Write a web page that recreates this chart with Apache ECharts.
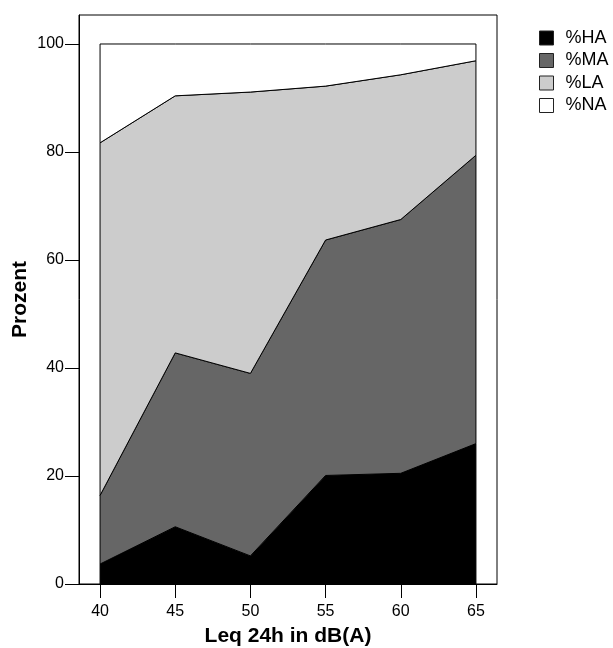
<!DOCTYPE html>
<html><head><meta charset="utf-8">
<script src="https://cdn.jsdelivr.net/npm/echarts@6/dist/echarts.min.js"></script>
<style>html,body{margin:0;padding:0;background:#fff}#c{width:613px;height:648px}</style>
</head><body><div id="c"></div>
<script>
const categories = [40, 45, 50, 55, 60, 65];
const seriesNames = ['%HA', '%MA', '%LA', '%NA'];
const pctHA = [3.7, 10.6, 5.2, 20.1, 20.5, 26.0];
const pctMA = [12.7, 32.2, 33.8, 43.6, 47.0, 53.4];
const pctLA = [65.3, 47.6, 52.1, 28.5, 26.8, 17.5];
const pctNA = [18.3, 9.6, 8.9, 7.8, 5.7, 3.1];
const yTicks = [0, 20, 40, 60, 80, 100];
const xTicks = [40, 45, 50, 55, 60, 65];

const colors = ['#000000', '#666666', '#cccccc', '#ffffff'];
const layers = [pctHA, pctMA, pctLA, pctNA];
const cum = [];
let base = categories.map(() => 0);
layers.forEach(l => {
  const top = base.map((b, i) => b + l[i]);
  cum.push({ lo: base, hi: top });
  base = top;
});

const FONT = 'Arial, "Liberation Sans", sans-serif';

const series = layers.map((l, k) => ({
  type: 'custom',
  name: seriesNames[k],
  data: categories.map((c, i) => [c, cum[k].lo[i], cum[k].hi[i]]),
  encode: { x: 0, y: [1, 2] },
  itemStyle: { color: colors[k], borderColor: '#000', borderWidth: 1 },
  silent: true,
  renderItem: (params, api) => {
    if (params.dataIndex !== 0) return null;
    const pts = [];
    for (let i = 0; i < categories.length; i++) pts.push(api.coord([categories[i], cum[k].hi[i]]));
    for (let i = categories.length - 1; i >= 0; i--) pts.push(api.coord([categories[i], cum[k].lo[i]]));
    return { type: 'polygon', shape: { points: pts }, style: { fill: colors[k], stroke: '#000', lineWidth: 1 } };
  }
}));

const chart = echarts.init(document.getElementById('c'), null, { renderer: 'canvas' });
chart.setOption({
  animation: false,
  backgroundColor: '#fff',
  textStyle: { fontFamily: FONT },
  grid: { left: 79, right: 116, top: 15, bottom: 64, show: true, borderColor: '#000', borderWidth: 1, backgroundColor: 'transparent', outerBoundsMode: 'none', containLabel: false },
  legend: {
    orient: 'vertical', left: 539, top: 29, padding: 0,
    itemWidth: 14, itemHeight: 14, itemGap: 4.5,
    icon: 'rect',
    textStyle: { fontSize: 18, color: '#000', fontFamily: FONT, padding: [0, 0, 0, 7] },
    data: seriesNames.map((n, k) => ({ name: n, itemStyle: { color: colors[k], borderColor: '#222', borderWidth: 1 } }))
  },
  xAxis: {
    type: 'value', min: 38.6, max: 66.4,
    axisLine: { show: true, lineStyle: { color: '#000', width: 1 } },
    axisTick: { show: true, length: 14, lineStyle: { color: '#000' }, customValues: xTicks },
    axisLabel: { customValues: xTicks, fontSize: 16, color: '#000', margin: 20, fontFamily: FONT },
    splitLine: { show: false },
    name: 'Leq 24h in dB(A)', nameLocation: 'middle', nameGap: 42, nameMoveOverlap: false,
    nameTextStyle: { fontWeight: 'bold', fontSize: 21, color: '#000', fontFamily: FONT }
  },
  yAxis: {
    type: 'value', min: 0, max: 105.37,
    axisLine: { show: true, lineStyle: { color: '#000', width: 1 } },
    axisTick: { show: true, length: 14, lineStyle: { color: '#000' }, customValues: yTicks },
    axisLabel: { customValues: yTicks, fontSize: 16, color: '#000', margin: 15, fontFamily: FONT },
    splitLine: { show: false },
    name: 'Prozent', nameLocation: 'middle', nameGap: 48, nameMoveOverlap: false,
    nameTextStyle: { fontWeight: 'bold', fontSize: 21, color: '#000', fontFamily: FONT }
  },
  series: series
});
</script>
</body></html>
